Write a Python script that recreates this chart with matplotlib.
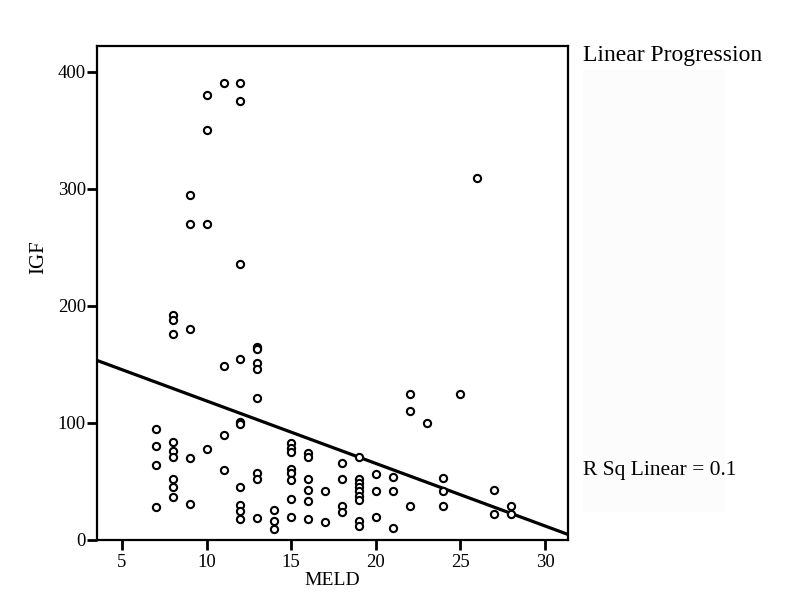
import matplotlib
matplotlib.use("Agg")
import matplotlib.pyplot as plt
import numpy as np
from matplotlib.patches import Rectangle

# MELD score (x) and IGF values (y)
meld = [7, 7, 7, 7,
        8, 8, 8, 8, 8, 8, 8, 8, 8,
        9, 9, 9, 9, 9,
        10, 10, 10, 10,
        11, 11, 11, 11,
        12, 12, 12, 12, 12, 12, 12, 12, 12, 12,
        13, 13, 13, 13, 13, 13, 13, 13,
        14, 14, 14,
        15, 15, 15, 15, 15, 15, 15, 15,
        16, 16, 16, 16, 16, 16,
        17, 17,
        18, 18, 18, 18,
        19, 19, 19, 19, 19, 19, 19, 19, 19,
        20, 20, 20,
        21, 21, 21,
        22, 22, 22,
        23,
        24, 24, 24,
        25,
        26,
        27, 27,
        28, 28]
igf = [95, 80, 64, 28,
       192, 188, 176, 84, 76, 71, 52, 45, 37,
       295, 270, 180, 70, 31,
       380, 350, 270, 78,
       390, 149, 90, 60,
       390, 375, 236, 155, 101, 99, 45, 30, 25, 18,
       165, 163, 151, 146, 121, 57, 52, 19,
       26, 16, 9,
       83, 79, 75, 61, 57, 51, 35, 20,
       74, 71, 52, 43, 33, 18,
       42, 15,
       66, 52, 29, 24,
       71, 52, 49, 45, 42, 38, 34, 16, 12,
       56, 42, 20,
       54, 42, 10,
       125, 110, 29,
       100,
       53, 42, 29,
       125,
       309,
       43, 22,
       29, 22]

# Fitted linear regression line (as shown in the reference)
fit_intercept = 172.2
fit_slope = -5.34
r_sq_text = "R Sq Linear = 0.1"
legend_title = "Linear Progression"

x_ticks = [5, 10, 15, 20, 25, 30]
y_ticks = [0, 100, 200, 300, 400]
x_label = "MELD"
y_label = "IGF"

plt.rcParams['font.family'] = ['Liberation Serif', 'DejaVu Serif']

fig = plt.figure(figsize=(7.88, 6.07), dpi=100)
ax = fig.add_axes([97/788, 1 - 540/607, (568 - 97)/788, (540 - 46)/607])

xmin, xmax = 3.52, 31.36
ymin, ymax = 0, 422
ax.set_xlim(xmin, xmax)
ax.set_ylim(ymin, ymax)

xl = np.array([xmin, xmax])
ax.plot(xl, fit_intercept + fit_slope * xl, color='black', lw=2.3, zorder=2,
        solid_capstyle='butt', clip_on=True)

ax.plot(meld, igf, linestyle='none', marker='o', markersize=5.2,
        markerfacecolor='white', markeredgecolor='black', markeredgewidth=1.5,
        zorder=3, clip_on=False)

ax.set_xticks(x_ticks)
ax.set_yticks(y_ticks)
ax.tick_params(direction='out', length=7, width=2, labelsize=13.5)
ax.tick_params(axis='y', pad=1)
ax.tick_params(axis='x', pad=3)
for s in ax.spines.values():
    s.set_linewidth(1.6)
ax.set_xlabel(x_label, fontsize=14, labelpad=1)
ax.set_ylabel(y_label, fontsize=15)
ax.yaxis.set_label_coords((48 - 97) / 471, (540 - 257) / 494)

# faint legend background panel
fig.patches.append(Rectangle((583/788, 1 - 512/607), (725 - 583)/788, (512 - 70)/607,
                             transform=fig.transFigure, facecolor='#fcfcfc',
                             edgecolor='none', zorder=0))
fig.text(583/788, 1 - 56/607, legend_title, fontsize=17, ha='left', va='center')
fig.text(583/788, 1 - 470/607, r_sq_text, fontsize=15.5, ha='left', va='center')

fig.savefig("out.png", dpi=100)
